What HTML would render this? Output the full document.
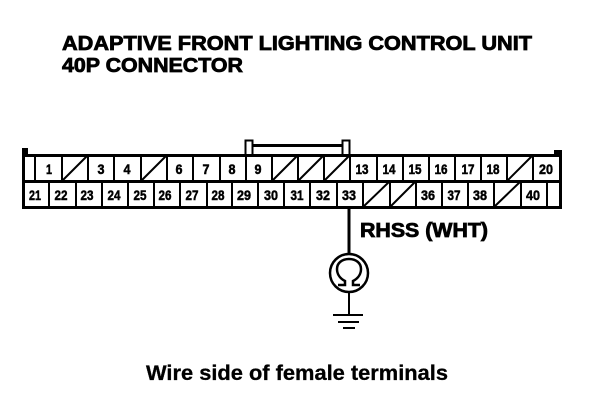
<!DOCTYPE html>
<html>
<head>
<meta charset="utf-8">
<style>
html,body{margin:0;padding:0;background:#fff;width:608px;height:406px;overflow:hidden}
svg{display:block}
text{font-family:"Liberation Sans",sans-serif;font-weight:bold;fill:#000}
.n{font-size:14px;text-anchor:middle;stroke:#000;stroke-width:.5px}
.t{stroke:#000;stroke-width:.8px}
</style>
</head>
<body>
<svg width="608" height="406" viewBox="0 0 608 406" xmlns="http://www.w3.org/2000/svg">
<rect width="608" height="406" fill="#fff"/>
<text class="t" x="62" y="50" font-size="20.500" textLength="470" lengthAdjust="spacingAndGlyphs">ADAPTIVE FRONT LIGHTING CONTROL UNIT</text>
<text class="t" x="62" y="72" font-size="20.500" textLength="181" lengthAdjust="spacingAndGlyphs">40P CONNECTOR</text>

<g stroke="#000" fill="none" shape-rendering="crispEdges">
  <!-- outer -->
  <path stroke-width="3" d="M23.500 150V207.500H560.500V150"/>
  <rect x="22" y="148" width="6" height="7" fill="#000" stroke="none"/>
  <rect x="554" y="150" width="8" height="5" fill="#000" stroke="none"/>
  <path stroke-width="3" d="M23 155.500H560"/>
  <path stroke-width="3" d="M23 181.500H560"/>
  <!-- handle -->
  <path stroke-width="2" d="M245.500 155V140.500H252.500V155M342.500 155V140.500H349.500V155"/>
  <path stroke-width="3" d="M253 145.500H342"/>
  <!-- top row verticals -->
  <path stroke-width="2" d="M35 155V181M62 155V181M88 155V181M114 155V181M141 155V181M167 155V181M193 155V181M220 155V181M246 155V181M272 155V181M298 155V181M324 155V181M350 155V181M377 155V181M403 155V181M429 155V181M455 155V181M481 155V181M507 155V181M533 155V181"/>
  <!-- bottom row verticals -->
  <path stroke-width="2" d="M49 181V207M76 181V207M102 181V207M128 181V207M154 181V207M180 181V207M207 181V207M232 181V207M258 181V207M284 181V207M310 181V207M337 181V207M363 181V207M390 181V207M416 181V207M442 181V207M468 181V207M494 181V207M521 181V207M547 181V207"/>
</g>
<!-- slashes -->
<g stroke="#000" stroke-width="2" fill="none">
  <path d="M62 181L88 155M141 181L167 155M272 181L298 155M298 181L324 155M324 181L350 155M507 181L533 155"/>
  <path d="M363 207L390 181M390 207L416 181M494 207L521 181"/>
</g>

<g>
<text class="n" x="49" y="174" textLength="6" lengthAdjust="spacingAndGlyphs">1</text>
<text class="n" x="101" y="174" textLength="7" lengthAdjust="spacingAndGlyphs">3</text>
<text class="n" x="127" y="174" textLength="7" lengthAdjust="spacingAndGlyphs">4</text>
<text class="n" x="179" y="174" textLength="7" lengthAdjust="spacingAndGlyphs">6</text>
<text class="n" x="206" y="174" textLength="7" lengthAdjust="spacingAndGlyphs">7</text>
<text class="n" x="232" y="174" textLength="7" lengthAdjust="spacingAndGlyphs">8</text>
<text class="n" x="258" y="174" textLength="7" lengthAdjust="spacingAndGlyphs">9</text>
<text class="n" x="362" y="174" textLength="13" lengthAdjust="spacingAndGlyphs">13</text>
<text class="n" x="389" y="174" textLength="13" lengthAdjust="spacingAndGlyphs">14</text>
<text class="n" x="415" y="174" textLength="13" lengthAdjust="spacingAndGlyphs">15</text>
<text class="n" x="441" y="174" textLength="13" lengthAdjust="spacingAndGlyphs">16</text>
<text class="n" x="468" y="174" textLength="13" lengthAdjust="spacingAndGlyphs">17</text>
<text class="n" x="493" y="174" textLength="13" lengthAdjust="spacingAndGlyphs">18</text>
<text class="n" x="546" y="174" textLength="14" lengthAdjust="spacingAndGlyphs">20</text>
<text class="n" x="35" y="200" textLength="12" lengthAdjust="spacingAndGlyphs">21</text>
<text class="n" x="61" y="200" textLength="13" lengthAdjust="spacingAndGlyphs">22</text>
<text class="n" x="87" y="200" textLength="13" lengthAdjust="spacingAndGlyphs">23</text>
<text class="n" x="114" y="200" textLength="13" lengthAdjust="spacingAndGlyphs">24</text>
<text class="n" x="140" y="200" textLength="13" lengthAdjust="spacingAndGlyphs">25</text>
<text class="n" x="165" y="200" textLength="13" lengthAdjust="spacingAndGlyphs">26</text>
<text class="n" x="192" y="200" textLength="13" lengthAdjust="spacingAndGlyphs">27</text>
<text class="n" x="218" y="200" textLength="13" lengthAdjust="spacingAndGlyphs">28</text>
<text class="n" x="244" y="200" textLength="14" lengthAdjust="spacingAndGlyphs">29</text>
<text class="n" x="271" y="200" textLength="14" lengthAdjust="spacingAndGlyphs">30</text>
<text class="n" x="297" y="200" textLength="13" lengthAdjust="spacingAndGlyphs">31</text>
<text class="n" x="323" y="200" textLength="14" lengthAdjust="spacingAndGlyphs">32</text>
<text class="n" x="349" y="200" textLength="14" lengthAdjust="spacingAndGlyphs">33</text>
<text class="n" x="428" y="200" textLength="14" lengthAdjust="spacingAndGlyphs">36</text>
<text class="n" x="454" y="200" textLength="13" lengthAdjust="spacingAndGlyphs">37</text>
<text class="n" x="480" y="200" textLength="14" lengthAdjust="spacingAndGlyphs">38</text>
<text class="n" x="533" y="200" textLength="14" lengthAdjust="spacingAndGlyphs">40</text>
</g>

<!-- wire + meter + ground -->
<g stroke="#000" fill="none">
  <path stroke-width="3" d="M349 208V253" shape-rendering="crispEdges"/>
  <circle cx="349" cy="273" r="19" stroke-width="2.500"/>
  <path stroke-width="2" d="M349 292V314" shape-rendering="crispEdges"/>
  <path stroke-width="2" d="M333 315H363M338 322H359M343 328H355" shape-rendering="crispEdges"/>
  <path stroke-width="2.500" d="M338 285H345V281C339 278 337 273 337 269C337 263 342 259 349 259C356 259 361 263 361 269C361 273 359 278 353 281V285H360"/>
</g>

<text class="t" x="360" y="237" font-size="20.500" textLength="128" lengthAdjust="spacingAndGlyphs">RHSS (WHT)</text>
<text x="146" y="380" font-size="21" stroke="#000" stroke-width=".3" textLength="302" lengthAdjust="spacingAndGlyphs">Wire side of female terminals</text>
</svg>
</body>
</html>
